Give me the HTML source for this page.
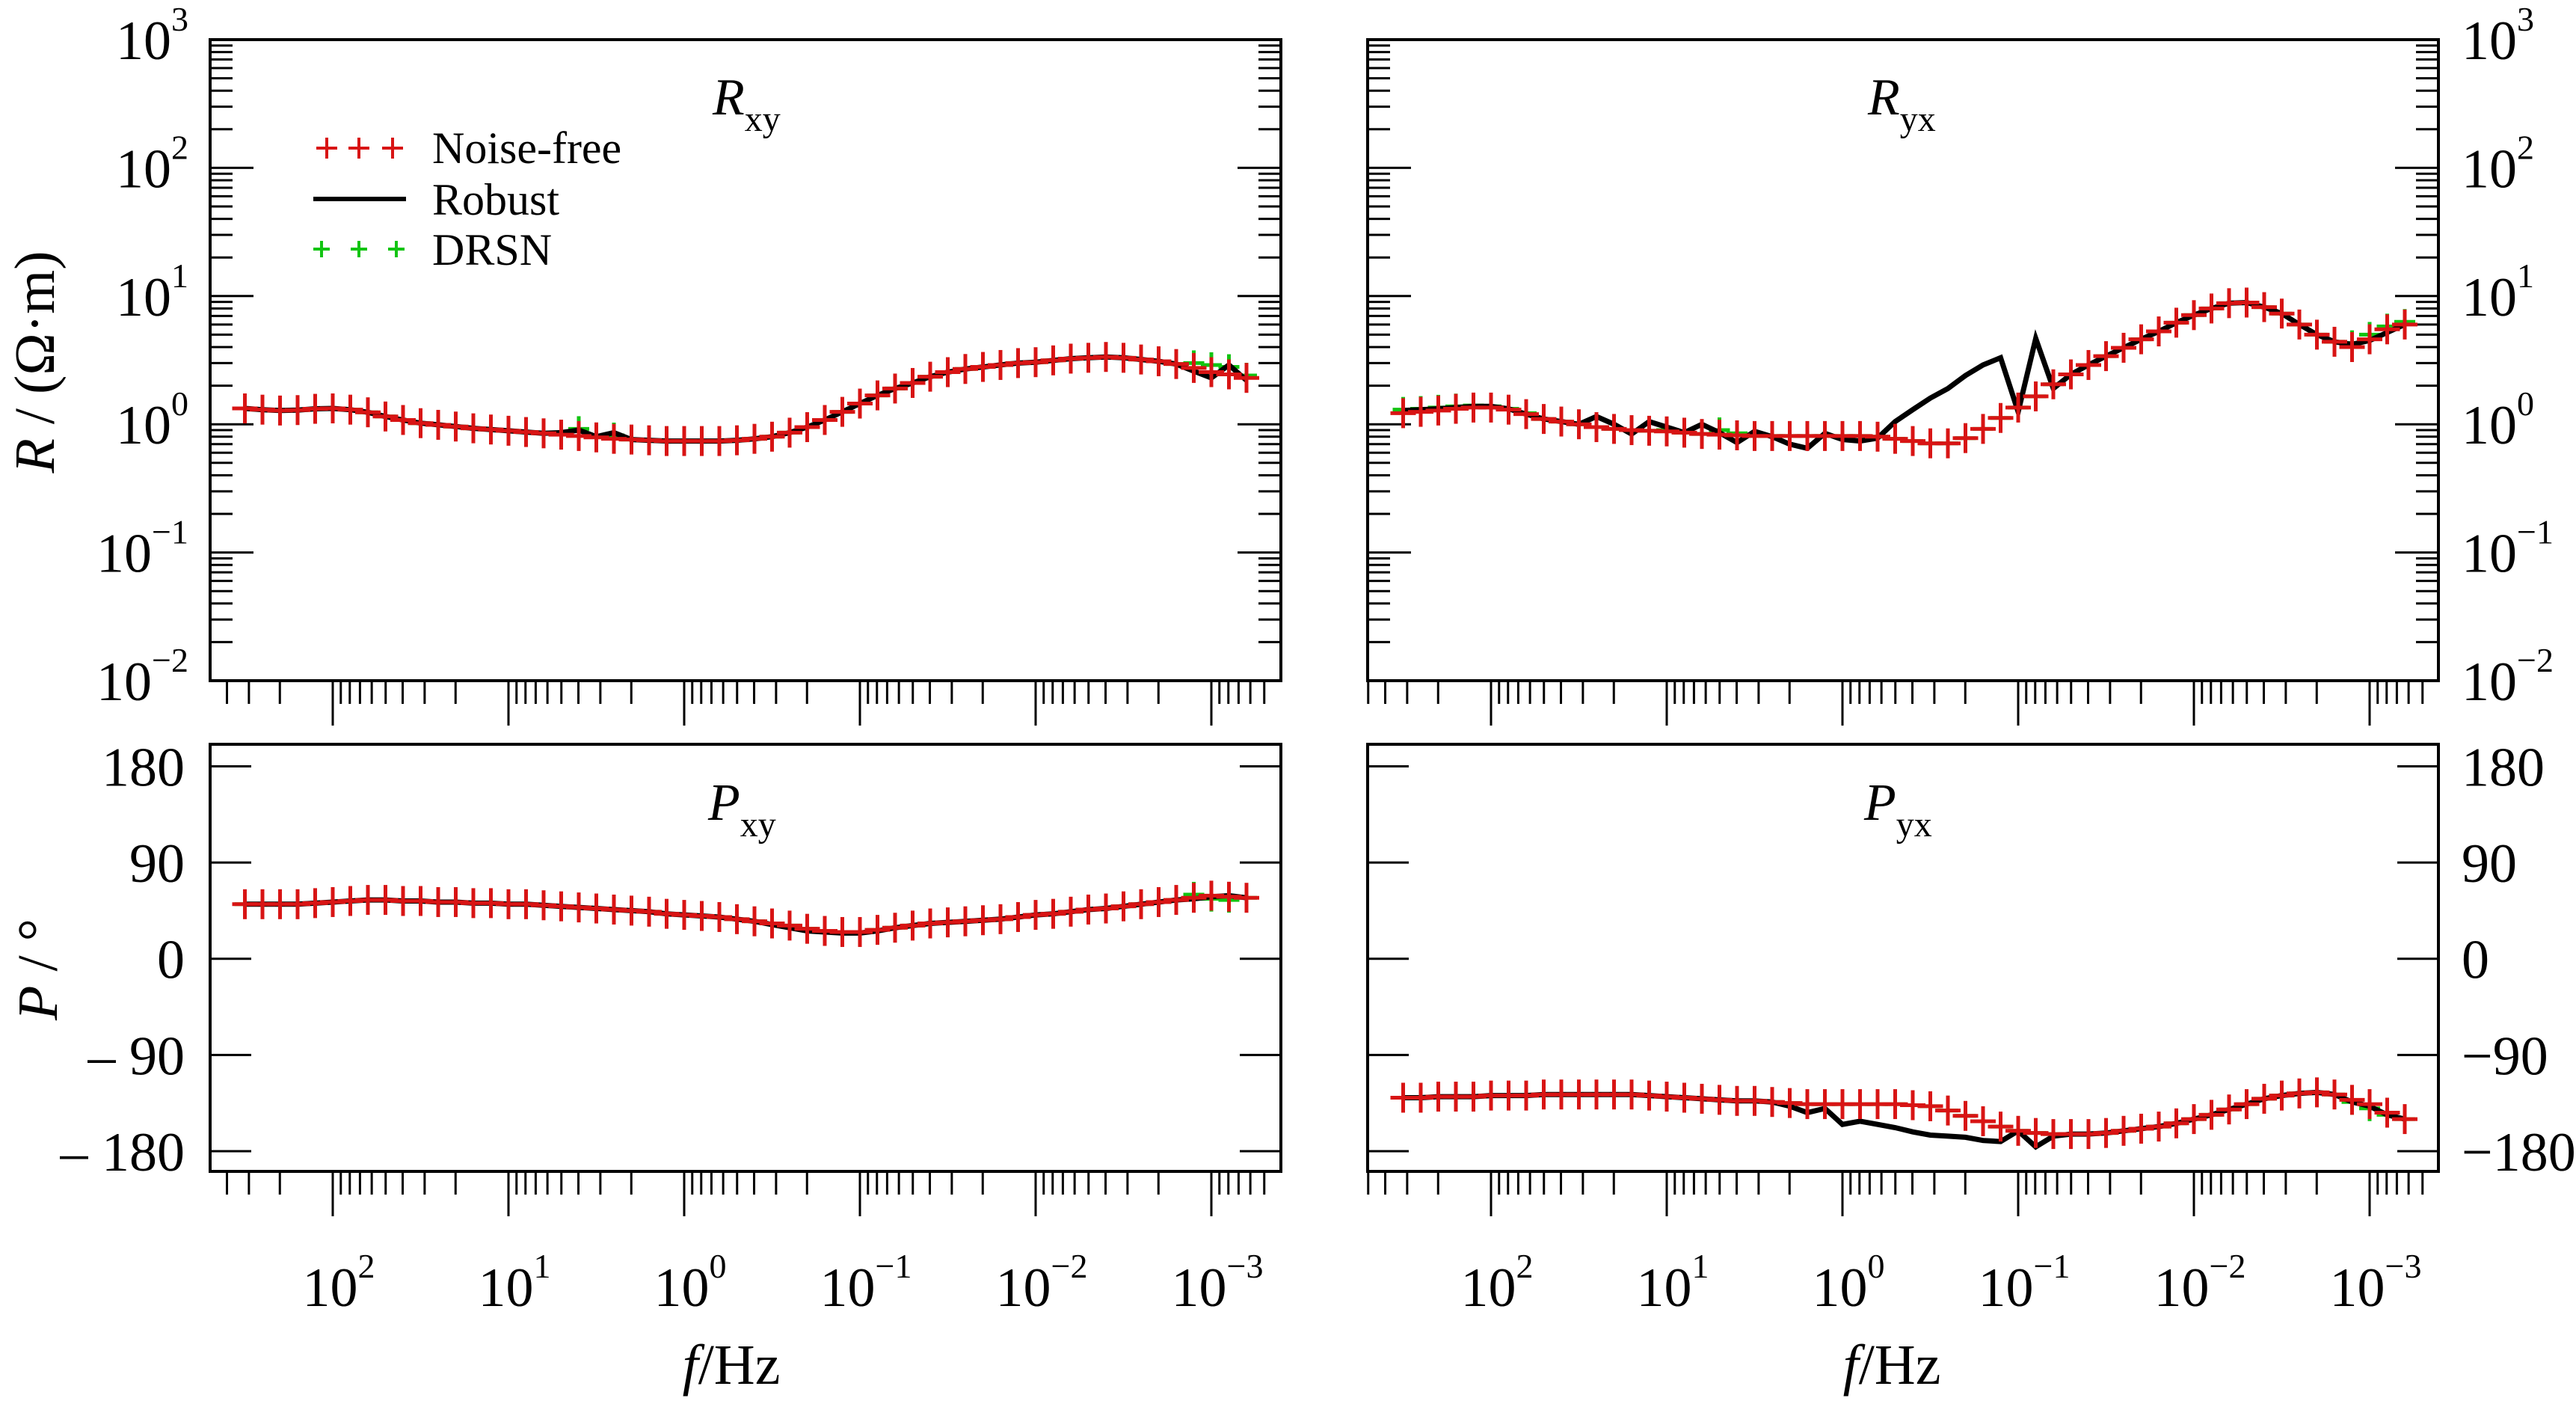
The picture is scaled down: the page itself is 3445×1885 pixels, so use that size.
<!DOCTYPE html>
<html><head><meta charset="utf-8"><style>
html,body{margin:0;padding:0;background:#fff;}
svg, svg text{font-family:"Liberation Serif","DejaVu Serif","Times New Roman",serif;}
svg{display:block;}
</style></head><body>
<svg id="fig" width="3445" height="1885" viewBox="0 0 3445 1885" xmlns="http://www.w3.org/2000/svg" font-family="Liberation Serif, DejaVu Serif, serif">
<rect width="3445" height="1885" fill="#fff"/>
</svg>
<script>
// log10 of frequency (Hz) for each sample
const logFreq = [2.5,2.4,2.3,2.2,2.1,2.0,1.9,1.8,1.7,1.6,1.5,1.4,1.3,1.2,1.1,1.0,0.9,0.8,0.7,0.6,0.5,0.4,0.3,0.2,0.1,0.0,-0.1,-0.2,-0.3,-0.4,-0.5,-0.6,-0.7,-0.8,-0.9,-1.0,-1.1,-1.2,-1.3,-1.4,-1.5,-1.6,-1.7,-1.8,-1.9,-2.0,-2.1,-2.2,-2.3,-2.4,-2.5,-2.6,-2.7,-2.8,-2.9,-3.0,-3.1,-3.2];
const rxyNoiseFree = [1.33,1.30,1.28,1.29,1.32,1.33,1.30,1.24,1.15,1.08,1.02,0.99,0.96,0.93,0.91,0.89,0.87,0.85,0.83,0.81,0.79,0.77,0.76,0.75,0.74,0.74,0.74,0.74,0.75,0.77,0.80,0.86,0.95,1.08,1.25,1.45,1.68,1.90,2.10,2.35,2.55,2.70,2.80,2.90,3.00,3.05,3.15,3.25,3.30,3.35,3.30,3.20,3.10,2.95,2.75,2.55,2.45,2.30];
const rxyRobust = [1.33,1.30,1.28,1.29,1.32,1.33,1.30,1.24,1.15,1.08,1.02,0.99,0.96,0.93,0.91,0.89,0.87,0.85,0.86,0.90,0.80,0.86,0.76,0.75,0.74,0.74,0.74,0.74,0.75,0.77,0.80,0.86,0.95,1.08,1.25,1.45,1.68,1.90,2.10,2.35,2.55,2.70,2.80,2.90,3.00,3.05,3.15,3.25,3.30,3.35,3.30,3.20,3.10,2.95,2.60,2.30,2.90,2.20];
const rxyDRSN = [1.33,1.30,1.28,1.29,1.32,1.33,1.30,1.24,1.15,1.08,1.02,0.99,0.96,0.93,0.91,0.89,0.87,0.85,0.85,0.92,0.80,0.82,0.76,0.75,0.74,0.74,0.74,0.74,0.75,0.77,0.80,0.86,0.95,1.08,1.25,1.45,1.68,1.90,2.10,2.35,2.55,2.70,2.80,2.90,3.00,3.05,3.15,3.25,3.30,3.35,3.30,3.20,3.10,2.95,3.00,2.90,2.80,2.40];
const ryxNoiseFree = [1.22,1.25,1.28,1.32,1.35,1.35,1.30,1.20,1.10,1.05,1.00,0.95,0.92,0.90,0.89,0.88,0.86,0.84,0.83,0.82,0.81,0.81,0.81,0.81,0.81,0.81,0.81,0.80,0.77,0.74,0.71,0.71,0.78,0.92,1.12,1.35,1.65,2.05,2.45,2.90,3.40,3.95,4.60,5.30,6.20,7.10,8.00,8.80,8.90,8.20,7.30,6.00,5.00,4.40,4.00,4.60,5.50,6.00];
const ryxRobust = [1.28,1.30,1.32,1.35,1.38,1.38,1.32,1.20,1.10,1.05,1.00,1.15,1.00,0.84,1.05,0.95,0.86,1.00,0.86,0.72,0.88,0.80,0.70,0.65,0.85,0.76,0.74,0.78,1.05,1.30,1.60,1.90,2.40,2.90,3.30,1.25,4.67,1.90,2.45,2.90,3.40,3.95,4.60,5.30,6.20,7.10,8.00,8.80,8.90,8.20,7.30,6.00,5.00,4.40,4.20,4.50,5.20,6.00];
const ryxDRSN = [1.30,1.32,1.35,1.38,1.40,1.38,1.32,1.22,1.10,1.05,1.00,0.95,0.92,0.90,0.89,0.90,0.86,0.84,0.90,0.85,0.81,0.81,0.81,0.81,0.81,0.81,0.81,0.80,0.77,0.74,0.71,0.71,0.78,0.92,1.12,1.35,1.65,2.05,2.45,2.90,3.40,3.95,4.60,5.30,6.20,7.10,8.00,8.80,8.90,8.20,7.30,6.00,5.00,4.40,4.30,5.00,5.80,6.30];
const pxyNoiseFree = [51,51,51,51,52,53,54,55,55,54,54,53,53,52,52,51,51,50,49,48,47,46,45,44,42,41,40,39,37,35,33,31,28,26,25,25,27,29,31,33,34,35,36,37,39,41,42,44,46,47,49,51,53,55,57,59,58,57];
const pxyRobust = [51,51,51,51,52,53,54,55,55,54,54,53,53,52,52,51,51,50,49,48,47,46,45,44,42,41,40,39,37,35,32,29,26,25,24,24,26,29,31,33,34,35,36,37,39,41,42,44,46,47,49,51,53,55,56,58,59,57];
const pxyDRSN = [51,51,51,51,52,53,54,55,55,54,54,53,53,52,52,51,51,50,49,48,47,46,45,44,42,41,40,39,37,35,33,31,28,26,25,25,27,29,31,33,34,35,36,37,39,41,42,44,46,47,49,51,53,55,60,56,55,57];
const pyxNoiseFree = [-130,-130,-129,-129,-129,-128,-128,-128,-127,-127,-127,-127,-127,-127,-128,-129,-130,-131,-132,-133,-133,-134,-135,-136,-136,-136,-136,-136,-136,-137,-138,-142,-147,-152,-157,-161,-163,-164,-164,-164,-163,-161,-159,-157,-154,-150,-146,-141,-136,-131,-128,-126,-125,-127,-132,-136,-144,-150];
const pyxRobust = [-130,-130,-129,-129,-129,-128,-128,-128,-127,-127,-127,-127,-127,-127,-128,-129,-130,-131,-132,-133,-133,-134,-138,-144,-140,-155,-152,-155,-158,-162,-165,-166,-167,-170,-171,-161,-176,-166,-164,-164,-163,-161,-159,-157,-154,-150,-146,-141,-136,-131,-128,-126,-125,-127,-134,-138,-146,-150];
const pyxDRSN = [-130,-130,-129,-129,-129,-128,-128,-128,-127,-127,-127,-127,-127,-127,-128,-129,-130,-131,-132,-133,-133,-134,-135,-136,-136,-136,-136,-136,-136,-137,-138,-142,-147,-152,-157,-161,-163,-164,-164,-164,-163,-161,-159,-157,-154,-150,-146,-141,-136,-131,-128,-126,-125,-127,-134,-140,-146,-150];
const xTickExps = [2,1,0,-1,-2,-3];
const rTickExps = [3,2,1,0,-1,-2];
const pTickVals = [180,90,0,-90,-180];

const NS = "http://www.w3.org/2000/svg";
const FONT = 'Liberation Serif, DejaVu Serif, serif';
const svg = document.getElementById('fig');
function mk(tag, attrs, parent){
  const e = document.createElementNS(NS, tag);
  for (const k in attrs) e.setAttribute(k, attrs[k]);
  if (tag === 'text') e.setAttribute('font-family', FONT);
  (parent||svg).appendChild(e);
  return e;
}
const RED = '#d81414', GREEN = '#12c412';

const panels = [
  {name:'rxy', x0:281, x1:1713, x10:445, y0:53, y1:910, type:'r', side:'left', t:'R', sub:'xy', tx:953, ty:153, sy:175, nf:rxyNoiseFree, rb:rxyRobust, dr:rxyDRSN},
  {name:'ryx', x0:1829, x1:3261, x10:1994, y0:53, y1:910, type:'r', side:'right', t:'R', sub:'yx', tx:2498, ty:153, sy:175, nf:ryxNoiseFree, rb:ryxRobust, dr:ryxDRSN},
  {name:'pxy', x0:281, x1:1713, x10:445, y0:995, y1:1566, type:'p', side:'left', t:'P', sub:'xy', tx:947, ty:1096, sy:1118, nf:pxyNoiseFree, rb:pxyRobust, dr:pxyDRSN},
  {name:'pyx', x0:1829, x1:3261, x10:1994, y0:995, y1:1566, type:'p', side:'right', t:'P', sub:'yx', tx:2493, ty:1096, sy:1118, nf:pyxNoiseFree, rb:pyxRobust, dr:pyxDRSN}
];
const DEC = 235, RDEC = 171.4, PDEG = 1.4292;

panels.forEach(p => {
  const g = mk('g', {});
  
  
  const X = L => p.x10 + (2 - L) * DEC;
  const Y = p.type === 'r' ? (v => p.y0 + (3 - Math.log10(v)) * RDEC) : (v => 1281.7 - v * PDEG);
  const Lmin = 2 - (p.x1 - p.x10) / DEC, Lmax = 2 + (p.x10 - p.x0) / DEC;

  const xt = mk('g', {stroke:'#000','stroke-width':3}, g);
  
  
  for (let k = 3; k >= -4; k--) {
    for (let m = 1; m <= 9; m++) {
      const L = k + Math.log10(m);
      if (L > Lmax + 0.001 || L < Lmin - 0.001) continue;
      const len = m === 1 ? 60 : 31;
      mk('line', {x1:X(L), x2:X(L), y1:p.y1, y2:p.y1 + len}, xt);
    }
  }
  const yt = mk('g', {stroke:'#000','stroke-width':3}, g);
  
  
  const addY = (y, len) => {
    mk('line', {x1:p.x0, x2:p.x0 + len, y1:y, y2:y}, yt);
    mk('line', {x1:p.x1, x2:p.x1 - len, y1:y, y2:y}, yt);
  };
  if (p.type === 'r') {
    for (let k = 3; k >= -2; k--) for (let m = 1; m <= 9; m++) {
      const v = m * Math.pow(10, k);
      if (v > 1000.01) continue;
      addY(Y(v), m === 1 ? 58 : 30);
    }
  } else {
    pTickVals.forEach(v => addY(Y(v), 55));
  }
  const lx = p.side === 'left' ? 252 : 3292;
  const anchor = p.side === 'left' ? 'end' : 'start';
  if (p.type === 'r') {
    rTickExps.forEach(e => {
      const t = mk('text', {x:lx, y:Y(Math.pow(10, e)) + 26, 'font-size':74, 'text-anchor':anchor}, g);
      
      
      t.appendChild(document.createTextNode('10'));
      const s = mk('tspan', {dy:-38, 'font-size':46}, t);
      s.textContent = String(e).replace('-', '\u2212');
    });
  } else {
    pTickVals.forEach(v => {
      let lbl = v < 0 ? (p.side === 'left' ? '\u2013 ' + (-v) : '\u2212' + (-v)) : String(v);
      const t = mk('text', {x:p.side === 'left' ? 247 : 3292, y:Y(v) + 26, 'font-size':74, 'text-anchor':anchor}, g);
      
      
      t.textContent = lbl;
    });
  }
  if (p.type === 'p') {
    xTickExps.forEach(e => {
      const t = mk('text', {x:X(e) + 8, y:1746, 'font-size':74, 'text-anchor':'middle'}, g);
      
      
      t.appendChild(document.createTextNode('10'));
      const s = mk('tspan', {dy:-38, 'font-size':46}, t);
      s.textContent = String(e).replace('-', '\u2212');
    });
  }
  const box = mk('rect', {x:p.x0, y:p.y0, width:p.x1 - p.x0, height:p.y1 - p.y0, fill:'none', stroke:'#000', 'stroke-width':4}, g);
  
  
  const tt = mk('text', {x:p.tx, y:p.ty, 'font-size':70}, g);
  
  
  const ti = mk('tspan', {'font-style':'italic'}, tt); ti.textContent = p.t;
  const ts = mk('tspan', {'font-size':48, y:p.sy}, tt); ts.textContent = p.sub;

  const plus = (gp, x, y, hw, hh, col, sw) => {
    mk('line', {x1:x - hw, x2:x + hw, y1:y, y2:y, stroke:col, 'stroke-width':sw}, gp);
    mk('line', {x1:x, x2:x, y1:y - hh, y2:y + hh, stroke:col, 'stroke-width':sw}, gp);
  };
  const gd = mk('g', {}, g);
  
  
  logFreq.forEach((L, i) => plus(gd, X(L), Y(p.dr[i]), 14, 17, GREEN, 5));
  const pts = logFreq.map((L, i) => X(L).toFixed(1) + ',' + Y(p.rb[i]).toFixed(1)).join(' ');
  const pl = mk('polyline', {points:pts, fill:'none', stroke:'#000', 'stroke-width':7, 'stroke-linejoin':'miter'}, g);
  
  
  const gn = mk('g', {}, g);
  
  
  logFreq.forEach((L, i) => plus(gn, X(L), Y(p.nf[i]), 17, 20, RED, 5));
});

function axisText(attrs, parts, name){
  const t = mk('text', attrs);
  
  
  parts.forEach(([s, it]) => { const sp = mk('tspan', it ? {'font-style':'italic'} : {}, t); sp.textContent = s; });
}
axisText({x:0, y:0, 'font-size':76, 'text-anchor':'middle', transform:'translate(72,484) rotate(-90)'}, [['R',1],[' / (\u03A9\u00B7m)',0]], 'y-axis-title-resistivity');
axisText({x:0, y:0, 'font-size':76, 'text-anchor':'middle', transform:'translate(76,1296) rotate(-90)'}, [['P',1],[' / \u00B0',0]], 'y-axis-title-phase');
axisText({x:978, y:1850, 'font-size':76, 'text-anchor':'middle'}, [['f',1],['/Hz',0]], 'x-axis-title-left');
axisText({x:2530, y:1850, 'font-size':76, 'text-anchor':'middle'}, [['f',1],['/Hz',0]], 'x-axis-title-right');

const lg = mk('g', {});


[437, 480, 525].forEach(x => {
  mk('line', {x1:x - 14, x2:x + 14, y1:198, y2:198, stroke:RED, 'stroke-width':4}, lg);
  mk('line', {x1:x, x2:x, y1:184, y2:212, stroke:RED, 'stroke-width':4}, lg);
});
mk('line', {x1:419, x2:543, y1:266, y2:266, stroke:'#000', 'stroke-width':6}, lg);
[430, 480, 530].forEach(x => {
  mk('line', {x1:x - 11, x2:x + 11, y1:333, y2:333, stroke:GREEN, 'stroke-width':4}, lg);
  mk('line', {x1:x, x2:x, y1:322, y2:344, stroke:GREEN, 'stroke-width':4}, lg);
});
[['Noise-free', 218, 'legend-entry-noise-free'], ['Robust', 287, 'legend-entry-robust'], ['DRSN', 354, 'legend-entry-drsn']].forEach(([s, y, n]) => {
  const t = mk('text', {x:578, y:y, 'font-size':60}, lg);
  
  
  t.textContent = s;
});
</script>
</body></html>
